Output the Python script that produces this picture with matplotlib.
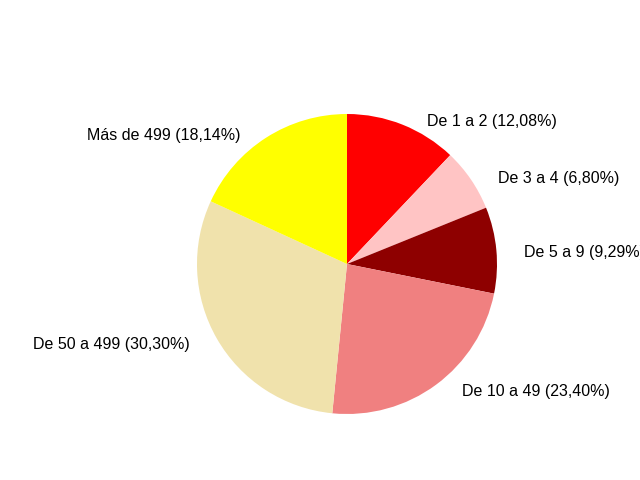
import matplotlib
matplotlib.use("Agg")
import matplotlib.pyplot as plt
import numpy as np

categories = ["De 1 a 2", "De 3 a 4", "De 5 a 9", "De 10 a 49", "De 50 a 499", "Más de 499"]
values = [12.08, 6.80, 9.29, 23.40, 30.30, 18.14]
colors = ["#FF0000", "#FFC4C4", "#8E0000", "#F08080", "#F0E2AC", "#FFFF00"]

labels = [f"{c} ({v:.2f}%)".replace(".", ",") for c, v in zip(categories, values)]

plt.rcParams["font.family"] = ["Liberation Sans", "DejaVu Sans"]

fig = plt.figure(figsize=(6.4, 4.8), dpi=100)
ax = fig.add_axes([197 / 640, 66 / 480, 300 / 640, 300 / 480])
wedges, texts = ax.pie(values, labels=labels, colors=colors, startangle=90,
                       counterclock=False, labeldistance=1.12,
                       wedgeprops=dict(linewidth=0),
                       textprops=dict(fontsize=11.5, color="black"))
# Excel-like label placement: just outside the rim, padded horizontally
for w, t in zip(wedges, texts):
    ang = np.deg2rad((w.theta1 + w.theta2) / 2)
    cx, cy = np.cos(ang), np.sin(ang)
    side = 1 if cx >= 0 else -1
    t.set_position((1.04 * cx + side * 0.147, 1.04 * cy - 0.017))
    t.set_ha("left" if side > 0 else "right")
    t.set_va("center")
    t.set_clip_on(False)
ax.set_xlim(-1, 1)
ax.set_ylim(-1, 1)
ax.set_aspect("equal")
ax.axis("off")
fig.savefig("out.png", dpi=100, facecolor="white")
